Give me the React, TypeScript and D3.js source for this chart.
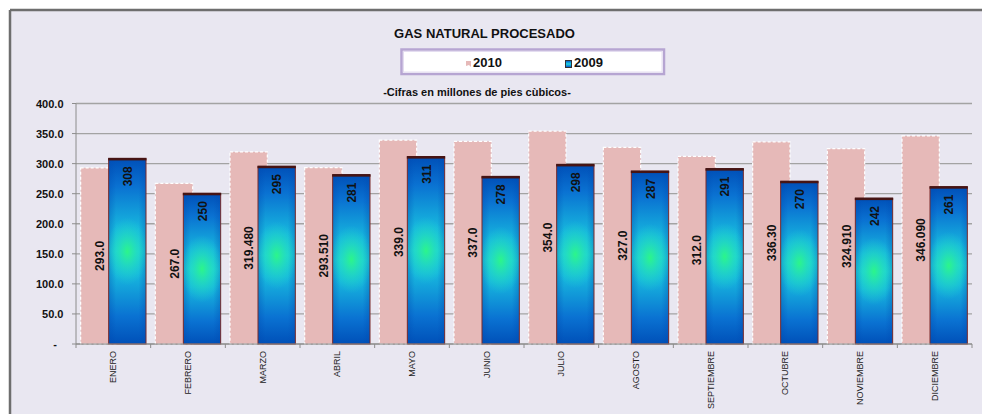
import React from "react";
import * as d3 from "d3";

const months = ["ENERO","FEBRERO","MARZO","ABRIL","MAYO","JUNIO","JULIO","AGOSTO","SEPTIEMBRE","OCTUBRE","NOVIEMBRE","DICIEMBRE"];
const values2010 = [293.0, 267.0, 319.48, 293.51, 339.0, 337.0, 354.0, 327.0, 312.0, 336.3, 324.91, 346.09];
const labels2010 = ["293.0","267.0","319.480","293.510","339.0","337.0","354.0","327.0","312.0","336.30","324.910","346.090"];
const values2009 = [308, 250, 295, 281, 311, 278, 298, 287, 291, 270, 242, 261];
const yTicks = [0, 50, 100, 150, 200, 250, 300, 350, 400];
const yTickLabels = ["-", "50.0", "100.0", "150.0", "200.0", "250.0", "300.0", "350.0", "400.0"];

const W = 982, H = 414;
const plotL = 76, plotR = 972, plotT = 103.5, plotB = 344;
const FONT = "'Liberation Sans', Arial, sans-serif";

export default function App() {
  const x = d3.scaleBand<string>().domain(months).range([plotL, plotR]).paddingInner(0).paddingOuter(0);
  const y = d3.scaleLinear().domain([0, 400]).range([plotB, plotT]);
  const bw = x.bandwidth();
  const barW = bw * 0.5;
  const gapOff = bw * 0.0625;
  const overlap = barW * 0.25;

  return (
    <svg width={W} height={H} style={{ position: "absolute", left: 0, top: 0 }} fontFamily={FONT}>
      <defs>
        <linearGradient id="blueV" x1="0" y1="0" x2="0" y2="1">
          <stop offset="0" stopColor="#0050B8" />
          <stop offset="0.15" stopColor="#0A72D2" />
          <stop offset="0.38" stopColor="#17B8DE" />
          <stop offset="0.5" stopColor="#1ED0DA" />
          <stop offset="0.62" stopColor="#17B8DE" />
          <stop offset="0.85" stopColor="#0A72D2" />
          <stop offset="1" stopColor="#0050B8" />
        </linearGradient>
        <linearGradient id="blueH" x1="0" y1="0" x2="1" y2="0">
          <stop offset="0" stopColor="#0048B0" stopOpacity="0.35" />
          <stop offset="0.2" stopColor="#0048B0" stopOpacity="0" />
          <stop offset="0.8" stopColor="#0048B0" stopOpacity="0" />
          <stop offset="1" stopColor="#0048B0" stopOpacity="0.35" />
        </linearGradient>
        <radialGradient id="greenSpot" cx="0.5" cy="0.5" r="0.5">
          <stop offset="0" stopColor="#2CF58A" stopOpacity="1" />
          <stop offset="0.45" stopColor="#26E6B0" stopOpacity="0.55" />
          <stop offset="1" stopColor="#20D8D0" stopOpacity="0" />
        </radialGradient>
      </defs>

      {/* chart area */}
      <rect x={10} y={10} width={W} height={H} fill="#E9E7F1" />
      <line x1={10} y1={10} x2={W} y2={10} stroke="#6E6E6E" strokeWidth={2.5} />
      <line x1={10} y1={10} x2={10} y2={H} stroke="#6E6E6E" strokeWidth={2.5} />

      {/* title */}
      <text x={484.5} y={38} textAnchor="middle" fontSize={13} fontWeight="bold" fill="#111">GAS NATURAL PROCESADO</text>

      {/* legend */}
      <rect x={401.5} y={49.5} width={262.5} height={24.5} fill="#FFFFFF" stroke="#B6A5D2" strokeWidth={2.5} />
      <rect x={403.5} y={51.5} width={258.5} height={20.5} fill="none" stroke="#E4DDF0" strokeWidth={1} />
      <path d="M466,61 L471,61 L471,67 L469,65 L466,66 Z" fill="#E6B9B8" />
      <text x={473} y={67} fontSize={13} fontWeight="bold" fill="#111">2010</text>
      <rect x={565.5} y={60.5} width={6} height={7} fill="url(#blueV)" stroke="#333" strokeWidth={1} />
      <text x={574} y={67} fontSize={13} fontWeight="bold" fill="#111">2009</text>

      {/* subtitle */}
      <text x={477} y={96} textAnchor="middle" fontSize={11} fontWeight="bold" fill="#111">-Cifras en millones de pies cùbicos-</text>

      {/* gridlines */}
      {yTicks.map((t) => (
        <line key={"g" + t} x1={plotL} x2={plotR} y1={y(t)} y2={y(t)} stroke="#A3A3A3" strokeWidth={1.3} />
      ))}
      {yTicks.map((t) => (
        <line key={"yt" + t} x1={plotL - 4} x2={plotL} y1={y(t)} y2={y(t)} stroke="#8C8C8C" strokeWidth={1} />
      ))}
      {yTicks.map((t, i) => (
        <text key={"yl" + t} x={t === 0 ? 57 : 63.5} y={y(t) + 4} textAnchor="end" fontSize={11} fontWeight="bold" fill="#111">{yTickLabels[i]}</text>
      ))}
      <line x1={plotL} x2={plotL} y1={plotT} y2={plotB} stroke="#8C8C8C" strokeWidth={1} />

      {/* bars */}
      {months.map((m, i) => {
        const x0 = (x(m) as number) + gapOff;
        const x1 = x0 + barW - overlap;
        const yp = y(values2010[i]);
        const yb = y(values2009[i]);
        const hb = plotB - yb;
        const cx0 = x0 + barW / 2;
        const cx1 = x1 + barW / 2;
        return (
          <g key={m}>
            <rect x={x0} y={yp} width={barW} height={plotB - yp} fill="#E6B9B8" stroke="#FFFFFF" strokeWidth={1.2} strokeDasharray="3,2" />
            <rect x={x1} y={yb} width={barW} height={hb} fill="url(#blueV)" />
            <rect x={x1} y={yb} width={barW} height={hb} fill="url(#blueH)" />
            <ellipse cx={cx1} cy={yb + hb / 2} rx={barW * 0.55} ry={Math.min(34, hb * 0.3)} fill="url(#greenSpot)" />
            <rect x={x1} y={yb} width={barW} height={hb} fill="none" stroke="#7A2A2A" strokeWidth={1} />
            <rect x={x1 - 0.5} y={yb - 1} width={barW + 1} height={2.6} fill="#461414" />
            <text transform={`translate(${cx0 + 4.5},${(yp + plotB) / 2}) rotate(-90)`} textAnchor="middle" fontSize={12} fontWeight="bold" fill="#111">{labels2010[i]}</text>
            <text transform={`translate(${cx1 + 4.5},${yb + 7.5}) rotate(-90)`} textAnchor="end" fontSize={12} fontWeight="bold" fill="#111">{String(values2009[i])}</text>
          </g>
        );
      })}

      {/* x axis */}
      <line x1={plotL} x2={plotR} y1={plotB} y2={plotB} stroke="#8C8C8C" strokeWidth={1.2} />
      {d3.range(months.length + 1).map((k) => (
        <line key={"xt" + k} x1={plotL + k * bw} x2={plotL + k * bw} y1={plotB} y2={plotB + 4} stroke="#8C8C8C" strokeWidth={1} />
      ))}
      {months.map((m) => (
        <text key={"xl" + m} transform={`translate(${(x(m) as number) + bw / 2 + 3},${plotB + 7}) rotate(-90)`} textAnchor="end" fontSize={9} fill="#222">{m}</text>
      ))}
    </svg>
  );
}
